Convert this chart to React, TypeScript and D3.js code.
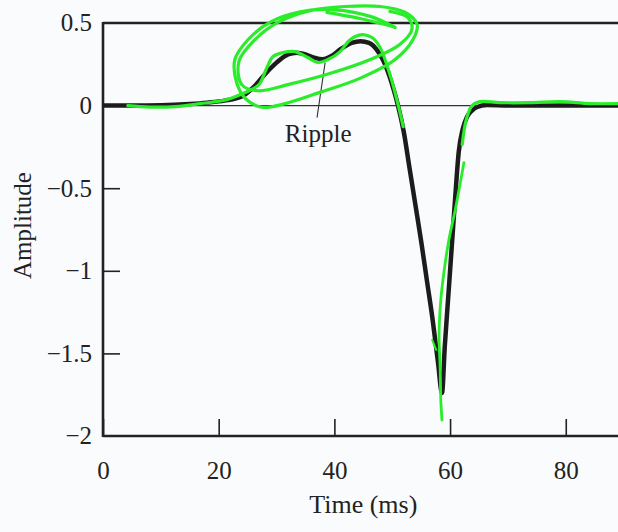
import React, { useEffect, useRef } from 'react'
import * as d3 from 'd3'

// pulse response (time ms, amplitude)
const pulseTime = [0, 5, 10, 15, 18, 21, 24, 26, 28, 30, 32, 33.5, 35, 36.5, 38, 39.5, 41, 43, 44.5, 46, 47.5, 48.5, 49.5, 50.3, 51, 52, 53, 54, 55, 56, 57, 57.9, 58.6, 59.1, 59.7, 60.3, 60.9, 61.5, 62.2, 62.9, 63.8, 64.6, 66.4, 70, 80, 90]
const pulseAmp = [0, 0, 0.002, 0.01, 0.018, 0.03, 0.055, 0.11, 0.19, 0.26, 0.31, 0.32, 0.31, 0.29, 0.28, 0.3, 0.34, 0.38, 0.39, 0.38, 0.33, 0.27, 0.18, 0.09, 0, -0.16, -0.38, -0.6, -0.82, -1.06, -1.3, -1.55, -1.74, -1.45, -1.15, -0.85, -0.55, -0.28, -0.14, -0.07, -0.03, -0.01, 0.003, 0, 0, 0]

// hand drawn green marks, in the same units
const traceTime = [4.3, 8.1, 12.5, 16.8, 21.4, 24.2, 26.3, 27.1, 28.4, 29.4, 31.1, 33.2, 35.4, 37.2, 38.9, 41.0, 42.4, 43.6, 44.9, 46.5, 47.9, 49.6, 50.8, 51.9]
const traceAmp = [0, -0.009, -0.006, 0.012, 0.036, 0.073, 0.109, 0.133, 0.236, 0.297, 0.321, 0.327, 0.291, 0.261, 0.279, 0.327, 0.388, 0.418, 0.43, 0.412, 0.352, 0.188, 0.036, -0.127]

const loopTime = [50.5, 46.2, 40.1, 34.1, 28.9, 25.1, 22.8, 23.1, 24.7, 27.5, 31.5, 37.5, 44.4, 50.5, 53.6, 54.3, 52.2, 47.9, 41.8, 35.8, 30.3, 26.3, 23.5, 24.0, 26.8, 32.3, 39.2, 46.2, 51.3, 53.4, 52.7, 49.6]
const loopAmp = [0.473, 0.54, 0.58, 0.568, 0.505, 0.4, 0.279, 0.14, 0.04, -0.01, 0.012, 0.08, 0.165, 0.279, 0.4, 0.491, 0.565, 0.6, 0.6, 0.575, 0.505, 0.4, 0.267, 0.127, 0.09, 0.13, 0.194, 0.279, 0.37, 0.461, 0.533, 0.57]

const tailTime = [38.7, 44.4, 50.1]
const tailAmp = [0.564, 0.527, 0.479]

const riseTime = [62.1, 62.8, 63.8, 65.2, 68.6, 73.8, 79, 84.2, 89]
const riseAmp = [-0.236, -0.085, 0, 0.024, 0.018, 0.018, 0.024, 0.012, 0.012]

const spikeTime = [62.4, 61.7, 60.9, 59.8, 59.0, 58.4, 58.1, 58.3, 58.4, 58.6]
const spikeAmp = [-0.345, -0.479, -0.63, -0.812, -0.994, -1.176, -1.388, -1.6, -1.782, -1.903]

const dashTime = [56.9, 57.6]
const dashAmp = [-1.418, -1.479]

const xTicks = [0, 20, 40, 60, 80]
const yTicks = [0.5, 0, -0.5, -1, -1.5, -2]

const rippleLabel = 'Ripple'
const rippleAt = [37.2, -0.22]
const rippleLeader = [[38.4, 0.26], [37.0, -0.073]]

const W = 618
const H = 532
const font = '"Liberation Serif", "Times New Roman", serif'

const zip = (a: number[], b: number[]) => a.map((v, i) => [v, b[i]] as [number, number])

export default function App() {
  const xAxisRef = useRef<SVGGElement>(null)
  const yAxisRef = useRef<SVGGElement>(null)

  const x = d3.scaleLinear().domain([0, 90]).range([103, 623.6])
  const y = d3.scaleLinear().domain([-2, 0.5]).range([436, 23])

  const smooth = d3.line<[number, number]>().x((d) => x(d[0])).y((d) => y(d[1])).curve(d3.curveMonotoneX)
  const free = d3.line<[number, number]>().x((d) => x(d[0])).y((d) => y(d[1])).curve(d3.curveCatmullRom.alpha(0.5))

  useEffect(() => {
    const fmt = (d: d3.NumberValue) => d3.format('')(d as number)
    const gx = d3.select(xAxisRef.current!)
    gx.selectAll('*').remove()
    gx.call(d3.axisBottom(x).tickValues(xTicks).tickSize(-17).tickPadding(25).tickFormat(fmt))
    gx.select('.domain').remove()
    gx.selectAll('line').attr('stroke', '#222').attr('stroke-width', 1.6)
    gx.selectAll('text').attr('font-family', font).attr('font-size', 25).attr('fill', '#222')

    const gy = d3.select(yAxisRef.current!)
    gy.selectAll('*').remove()
    gy.call(d3.axisLeft(y).tickValues(yTicks.filter((v) => v !== 0.5 && v !== -2)).tickSize(-17).tickPadding(11).tickFormat(fmt))
    gy.select('.domain').remove()
    gy.selectAll('line').attr('stroke', '#222').attr('stroke-width', 1.6)
    gy.selectAll('text').attr('font-family', font).attr('font-size', 25).attr('fill', '#222')
    // labels at the frame edges have no tick mark
    ;[0.5, -2].forEach((v) => {
      gy.append('text')
        .attr('x', -11)
        .attr('y', y(v))
        .attr('dy', '0.32em')
        .attr('text-anchor', 'end')
        .attr('font-family', font)
        .attr('font-size', 25)
        .attr('fill', '#222')
        .text(d3.format('')(v))
    })
  }, [])

  const green = '#2aec2a'

  return (
    <svg width={W} height={H} style={{ position: 'fixed', left: 0, top: 0, background: '#fafbfd' }}>
      <rect width={W} height={H} fill="#fafbfd" />
      {/* frame */}
      <line x1={x(0)} x2={W} y1={y(0.5)} y2={y(0.5)} stroke="#222" strokeWidth={2.4} />
      <line x1={x(0)} x2={W} y1={y(0)} y2={y(0)} stroke="#333" strokeWidth={1.2} />
      <line x1={x(0)} x2={W} y1={y(-2)} y2={y(-2)} stroke="#222" strokeWidth={2.6} />
      <line x1={x(0)} x2={x(0)} y1={y(0.5) - 1} y2={y(-2) + 1} stroke="#222" strokeWidth={2.6} />
      <g ref={xAxisRef} transform={`translate(0,${y(-2)})`} />
      <g ref={yAxisRef} transform={`translate(${x(0)},0)`} />

      {/* annotation */}
      <line x1={x(rippleLeader[0][0])} y1={y(rippleLeader[0][1])} x2={x(rippleLeader[1][0])} y2={y(rippleLeader[1][1])} stroke="#333" strokeWidth={1.1} />
      <text x={x(rippleAt[0])} y={y(rippleAt[1])} textAnchor="middle" fontFamily={font} fontSize={25} fill="#222">
        {rippleLabel}
      </text>

      <path d={smooth(zip(pulseTime, pulseAmp)) ?? ''} fill="none" stroke="#1c1c1c" strokeWidth={4.5} strokeLinejoin="round" />

      <g fill="none" stroke={green} strokeWidth={3.2} strokeLinecap="round" strokeLinejoin="round">
        <path d={free(zip(traceTime, traceAmp)) ?? ''} />
        <path d={free(zip(loopTime, loopAmp)) ?? ''} />
        <path d={free(zip(tailTime, tailAmp)) ?? ''} />
        <path d={free(zip(riseTime, riseAmp)) ?? ''} />
        <path d={free(zip(spikeTime, spikeAmp)) ?? ''} strokeWidth={2.8} />
        <path d={free(zip(dashTime, dashAmp)) ?? ''} strokeWidth={2} />
      </g>

      <text x={x(45)} y={513} textAnchor="middle" fontFamily={font} fontSize={26} fill="#222">
        Time (ms)
      </text>
      <text transform={`translate(31,${(y(0.5) + y(-2)) / 2 - 4}) rotate(-90)`} textAnchor="middle" fontFamily={font} fontSize={25} fill="#222">
        Amplitude
      </text>
    </svg>
  )
}
